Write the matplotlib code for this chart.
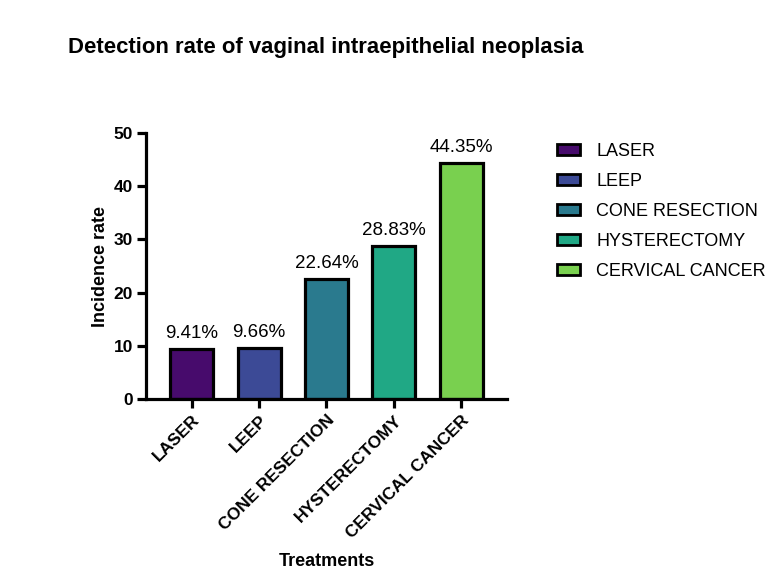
import matplotlib
matplotlib.use("Agg")
import matplotlib.pyplot as plt
from matplotlib.patches import Patch

plt.rcParams['font.family'] = ['Liberation Sans', 'DejaVu Sans']

treatments = ['LASER', 'LEEP', 'CONE RESECTION', 'HYSTERECTOMY', 'CERVICAL CANCER']
rates = [9.41, 9.66, 22.64, 28.83, 44.35]
labels = ['9.41%', '9.66%', '22.64%', '28.83%', '44.35%']
colors = ['#470b6c', '#3c4a96', '#2a7a8e', '#20a885', '#79d04f']

fig = plt.figure(figsize=(7.74, 5.71), dpi=100)
ax = fig.add_axes([0.1886, 0.3012, 0.4664, 0.4658])

x = list(range(len(treatments)))
ax.bar(x, rates, width=0.64, color=colors, edgecolor='black', linewidth=2.3)

for xi, v, lab in zip(x, rates, labels):
    ax.text(xi, v + 1.3, lab, ha='center', va='bottom', fontsize=13.5)

ax.set_xlim(-0.68, 4.68)
ax.set_ylim(0, 50)
ax.set_yticks([0, 10, 20, 30, 40, 50])
ax.set_xticks(x)
ax.set_xticklabels(treatments, rotation=45, ha='right', rotation_mode='anchor',
                   fontsize=12.5, fontweight='bold')
for t in ax.get_yticklabels():
    t.set_fontsize(12.5)
    t.set_fontweight('bold')

for s in ['top', 'right']:
    ax.spines[s].set_visible(False)
for s in ['left', 'bottom']:
    ax.spines[s].set_linewidth(2.3)
ax.tick_params(axis='both', width=2.3, length=6.5, pad=3)

ax.set_ylabel('Incidence rate', fontsize=13, fontweight='bold', labelpad=3)
ax.set_xlabel('Treatments', fontsize=13, fontweight='bold', labelpad=9)

fig.text(0.421, 0.917, 'Detection rate of vaginal intraepithelial neoplasia',
         ha='center', va='center', fontsize=15.9, fontweight='bold')

handles = [Patch(facecolor=c, edgecolor='black', linewidth=2, label=t)
           for c, t in zip(colors, treatments)]
ax.legend(handles=handles, loc='upper left', bbox_to_anchor=(0.698, 0.778),
          bbox_transform=fig.transFigure, frameon=False, fontsize=13,
          handlelength=1.3, handleheight=0.55, handletextpad=0.9, labelspacing=0.72)

fig.savefig('out.png', dpi=100, facecolor='white')
